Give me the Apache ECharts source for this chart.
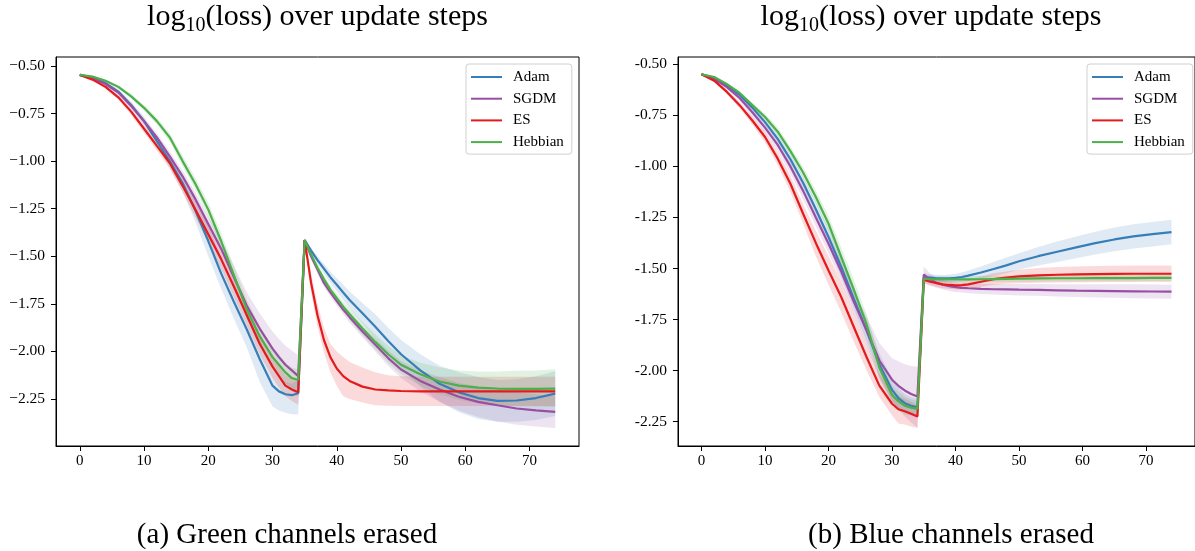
<!DOCTYPE html>
<html>
<head>
<meta charset="utf-8">
<title>log10(loss) over update steps</title>
<script src="https://cdn.jsdelivr.net/npm/echarts@6.0.0/dist/echarts.min.js"></script>
<style>
  html, body { margin: 0; padding: 0; background: #fff; }
  #main { width: 1195px; height: 551px; }
</style>
</head>
<body>
<div id="main"></div>
<script>
var steps = [0,2,4,6,8, 10,12,14,16,18, 20,22,24,26,28, 30,31,32,33,34,
             35,36,37,38,39, 40,41,42,44,46, 48,50,53,56,59, 62,65,68,71,74];

var xTicks = [0, 10, 20, 30, 40, 50, 60, 70];
var yTicks = [-0.5, -0.75, -1, -1.25, -1.5, -1.75, -2, -2.25];
var yLabelsA = ['\u22120.50','\u22120.75','\u22121.00','\u22121.25','\u22121.50','\u22121.75','\u22122.00','\u22122.25'];
var yLabelsB = ['-0.50','-0.75','-1.00','-1.25','-1.50','-1.75','-2.00','-2.25'];

var methods = ['Adam', 'SGDM', 'ES', 'Hebbian'];
var colors = ['#377eb8', '#984ea3', '#e41a1c', '#4daf4a'];

// (a) Green channels erased
var adamA = [-0.547,-0.563,-0.590,-0.635,-0.705, -0.790,-0.895,-1.000,-1.115,-1.260,
  -1.420,-1.590,-1.740,-1.885,-2.040, -2.180,-2.210,-2.225,-2.230,-2.220,
  -1.415,-1.470,-1.520,-1.565,-1.610, -1.650,-1.690,-1.730,-1.800,-1.870,
  -1.945,-2.015,-2.100,-2.170,-2.215, -2.245,-2.260,-2.258,-2.245,-2.222];
var adamALo = [-0.552,-0.570,-0.600,-0.648,-0.722, -0.810,-0.922,-1.035,-1.160,-1.320,
  -1.500,-1.670,-1.830,-1.980,-2.160, -2.290,-2.310,-2.322,-2.330,-2.332,
  -1.425,-1.485,-1.540,-1.590,-1.640, -1.685,-1.730,-1.775,-1.855,-1.935,
  -2.015,-2.090,-2.185,-2.265,-2.320, -2.355,-2.370,-2.370,-2.360,-2.340];
var adamAHi = [-0.542,-0.556,-0.580,-0.622,-0.688, -0.768,-0.868,-0.965,-1.070,-1.200,
  -1.340,-1.510,-1.650,-1.790,-1.930, -2.090,-2.140,-2.160,-2.170,-2.150,
  -1.405,-1.455,-1.500,-1.540,-1.580, -1.615,-1.650,-1.685,-1.745,-1.805,
  -1.875,-1.940,-2.015,-2.075,-2.110, -2.135,-2.150,-2.146,-2.130,-2.104];

var sgdmA = [-0.547,-0.565,-0.595,-0.640,-0.710, -0.790,-0.875,-0.975,-1.080,-1.200,
  -1.330,-1.460,-1.610,-1.760,-1.880, -1.985,-2.030,-2.070,-2.100,-2.130,
  -1.415,-1.500,-1.570,-1.640,-1.690, -1.735,-1.780,-1.820,-1.895,-1.965,
  -2.035,-2.095,-2.155,-2.200,-2.238, -2.265,-2.283,-2.300,-2.310,-2.318];
var sgdmALo = [-0.551,-0.571,-0.604,-0.652,-0.725, -0.808,-0.897,-1.000,-1.110,-1.235,
  -1.370,-1.510,-1.670,-1.830,-1.960, -2.075,-2.125,-2.170,-2.205,-2.240,
  -1.425,-1.515,-1.590,-1.660,-1.712, -1.760,-1.805,-1.848,-1.925,-2.000,
  -2.075,-2.140,-2.210,-2.265,-2.310, -2.345,-2.368,-2.385,-2.395,-2.402];
var sgdmAHi = [-0.543,-0.559,-0.586,-0.628,-0.695, -0.772,-0.853,-0.950,-1.050,-1.165,
  -1.290,-1.410,-1.550,-1.690,-1.800, -1.895,-1.935,-1.970,-1.995,-2.020,
  -1.405,-1.485,-1.550,-1.620,-1.668, -1.710,-1.755,-1.792,-1.865,-1.930,
  -1.995,-2.050,-2.100,-2.135,-2.166, -2.185,-2.198,-2.215,-2.225,-2.234];

var esA = [-0.547,-0.572,-0.610,-0.665,-0.740, -0.830,-0.920,-1.010,-1.130,-1.255,
  -1.385,-1.515,-1.660,-1.810,-1.960, -2.080,-2.130,-2.180,-2.200,-2.215,
  -1.415,-1.640,-1.810,-1.940,-2.030, -2.090,-2.130,-2.155,-2.185,-2.200,
  -2.205,-2.208,-2.210,-2.210,-2.210, -2.210,-2.210,-2.210,-2.210,-2.210];
var esALo = [-0.551,-0.578,-0.619,-0.678,-0.757, -0.850,-0.945,-1.040,-1.165,-1.295,
  -1.430,-1.565,-1.715,-1.865,-2.015, -2.140,-2.190,-2.235,-2.260,-2.280,
  -1.425,-1.690,-1.870,-2.005,-2.110, -2.180,-2.235,-2.250,-2.268,-2.283,
  -2.286,-2.287,-2.287,-2.287,-2.287, -2.287,-2.287,-2.287,-2.287,-2.287];
var esAHi = [-0.543,-0.566,-0.601,-0.652,-0.723, -0.810,-0.895,-0.980,-1.095,-1.215,
  -1.340,-1.465,-1.605,-1.755,-1.905, -2.020,-2.070,-2.125,-2.140,-2.150,
  -1.405,-1.590,-1.750,-1.875,-1.960, -2.000,-2.030,-2.055,-2.085,-2.110,
  -2.125,-2.130,-2.133,-2.133,-2.133, -2.133,-2.133,-2.133,-2.133,-2.133];

var hebbA = [-0.547,-0.556,-0.578,-0.610,-0.660, -0.720,-0.790,-0.875,-1.000,-1.120,
  -1.255,-1.420,-1.600,-1.780,-1.920, -2.030,-2.070,-2.110,-2.140,-2.150,
  -1.415,-1.490,-1.560,-1.620,-1.675, -1.720,-1.765,-1.805,-1.880,-1.950,
  -2.015,-2.070,-2.120,-2.158,-2.180, -2.190,-2.195,-2.197,-2.197,-2.195];
var hebbALo = [-0.550,-0.561,-0.585,-0.620,-0.672, -0.735,-0.808,-0.898,-1.028,-1.152,
  -1.292,-1.462,-1.648,-1.830,-1.972, -2.085,-2.125,-2.165,-2.195,-2.205,
  -1.425,-1.505,-1.578,-1.640,-1.698, -1.745,-1.792,-1.835,-1.915,-1.990,
  -2.060,-2.120,-2.180,-2.225,-2.255, -2.272,-2.282,-2.288,-2.290,-2.292];
var hebbAHi = [-0.544,-0.551,-0.571,-0.600,-0.648, -0.705,-0.772,-0.852,-0.972,-1.088,
  -1.218,-1.378,-1.552,-1.730,-1.868, -1.975,-2.015,-2.055,-2.085,-2.095,
  -1.405,-1.475,-1.542,-1.600,-1.652, -1.695,-1.738,-1.775,-1.845,-1.910,
  -1.970,-2.020,-2.060,-2.085,-2.100, -2.105,-2.105,-2.102,-2.100,-2.094];

// (b) Blue channels erased
var adamB = [-0.549,-0.567,-0.603,-0.650,-0.712, -0.783,-0.865,-0.965,-1.080,-1.210,
  -1.346,-1.493,-1.649,-1.804,-1.970, -2.095,-2.135,-2.160,-2.173,-2.180,
  -1.543,-1.545,-1.548,-1.549,-1.548, -1.546,-1.542,-1.535,-1.520,-1.503,
  -1.485,-1.465,-1.440,-1.418,-1.397, -1.376,-1.358,-1.343,-1.332,-1.322];
var adamBLo = [-0.552,-0.572,-0.611,-0.661,-0.727, -0.801,-0.887,-0.992,-1.112,-1.248,
  -1.390,-1.542,-1.700,-1.860,-2.025, -2.150,-2.185,-2.205,-2.215,-2.222,
  -1.562,-1.562,-1.565,-1.566,-1.566, -1.566,-1.564,-1.560,-1.550,-1.537,
  -1.523,-1.505,-1.485,-1.468,-1.450, -1.432,-1.416,-1.402,-1.392,-1.382];
var adamBHi = [-0.546,-0.562,-0.595,-0.639,-0.697, -0.765,-0.843,-0.938,-1.048,-1.172,
  -1.302,-1.444,-1.598,-1.748,-1.915, -2.040,-2.085,-2.115,-2.131,-2.138,
  -1.524,-1.528,-1.531,-1.532,-1.530, -1.526,-1.520,-1.510,-1.490,-1.469,
  -1.447,-1.425,-1.395,-1.368,-1.344, -1.320,-1.300,-1.284,-1.272,-1.262];

var sgdmB = [-0.549,-0.571,-0.612,-0.665,-0.735, -0.810,-0.895,-1.000,-1.120,-1.250,
  -1.379,-1.515,-1.665,-1.804,-1.951, -2.045,-2.075,-2.098,-2.115,-2.127,
  -1.530,-1.555,-1.570,-1.580,-1.587, -1.592,-1.595,-1.597,-1.600,-1.602,
  -1.603,-1.604,-1.605,-1.607,-1.609, -1.610,-1.611,-1.612,-1.613,-1.614];
var sgdmBLo = [-0.552,-0.577,-0.622,-0.680,-0.755, -0.835,-0.925,-1.035,-1.160,-1.295,
  -1.425,-1.565,-1.720,-1.875,-2.040, -2.150,-2.190,-2.225,-2.255,-2.280,
  -1.570,-1.585,-1.595,-1.603,-1.610, -1.615,-1.618,-1.621,-1.625,-1.628,
  -1.630,-1.632,-1.634,-1.637,-1.640, -1.642,-1.644,-1.646,-1.647,-1.648];
var sgdmBHi = [-0.546,-0.565,-0.602,-0.650,-0.715, -0.785,-0.865,-0.965,-1.080,-1.205,
  -1.333,-1.465,-1.610,-1.735,-1.865, -1.940,-1.955,-1.970,-1.978,-1.982,
  -1.490,-1.525,-1.545,-1.557,-1.564, -1.569,-1.572,-1.573,-1.575,-1.576,
  -1.576,-1.576,-1.576,-1.577,-1.578, -1.578,-1.578,-1.578,-1.579,-1.580];

var esB = [-0.549,-0.580,-0.635,-0.700,-0.775, -0.856,-0.962,-1.085,-1.232,-1.375,
  -1.510,-1.640,-1.788,-1.935,-2.074, -2.163,-2.190,-2.200,-2.212,-2.225,
  -1.555,-1.565,-1.572,-1.578,-1.581, -1.583,-1.582,-1.578,-1.565,-1.552,
  -1.545,-1.539,-1.534,-1.531,-1.529, -1.528,-1.527,-1.526,-1.526,-1.526];
var esBLo = [-0.552,-0.586,-0.645,-0.715,-0.795, -0.882,-0.995,-1.125,-1.280,-1.440,
  -1.580,-1.715,-1.860,-2.000,-2.130, -2.220,-2.260,-2.265,-2.275,-2.282,
  -1.572,-1.582,-1.590,-1.597,-1.600, -1.603,-1.603,-1.600,-1.590,-1.580,
  -1.575,-1.572,-1.570,-1.569,-1.568, -1.568,-1.567,-1.567,-1.567,-1.567];
var esBHi = [-0.546,-0.574,-0.625,-0.685,-0.755, -0.830,-0.930,-1.045,-1.185,-1.315,
  -1.440,-1.565,-1.716,-1.870,-2.018, -2.106,-2.125,-2.140,-2.155,-2.170,
  -1.538,-1.548,-1.554,-1.559,-1.562, -1.563,-1.561,-1.556,-1.540,-1.524,
  -1.515,-1.506,-1.498,-1.493,-1.490, -1.488,-1.487,-1.486,-1.485,-1.485];

var hebbB = [-0.549,-0.562,-0.597,-0.640,-0.700, -0.758,-0.830,-0.925,-1.030,-1.150,
  -1.281,-1.444,-1.605,-1.775,-1.985, -2.120,-2.150,-2.172,-2.182,-2.188,
  -1.550,-1.552,-1.553,-1.554,-1.554, -1.554,-1.554,-1.554,-1.553,-1.552,
  -1.551,-1.550,-1.549,-1.548,-1.548, -1.547,-1.547,-1.547,-1.546,-1.546];
var hebbBLo = [-0.552,-0.567,-0.605,-0.650,-0.713, -0.774,-0.850,-0.948,-1.057,-1.182,
  -1.320,-1.490,-1.655,-1.825,-2.035, -2.165,-2.195,-2.215,-2.222,-2.225,
  -1.566,-1.568,-1.569,-1.570,-1.570, -1.570,-1.570,-1.570,-1.569,-1.568,
  -1.567,-1.566,-1.565,-1.564,-1.564, -1.563,-1.563,-1.563,-1.562,-1.562];
var hebbBHi = [-0.546,-0.557,-0.589,-0.630,-0.687, -0.742,-0.810,-0.902,-1.003,-1.118,
  -1.242,-1.398,-1.555,-1.725,-1.935, -2.075,-2.105,-2.129,-2.142,-2.151,
  -1.534,-1.536,-1.537,-1.538,-1.538, -1.538,-1.538,-1.538,-1.537,-1.536,
  -1.535,-1.534,-1.533,-1.532,-1.532, -1.531,-1.531,-1.531,-1.530,-1.530];

var FONT = "'Liberation Serif', 'DejaVu Serif', serif";

var chart = echarts.init(document.getElementById('main'), null, { renderer: 'canvas' });

// shaded band between lo and hi, drawn as one polygon through the axis scales
function bandSeries(k, lo, hi, color) {
  return {
    type: 'custom',
    xAxisIndex: k,
    yAxisIndex: k,
    silent: true,
    z: 1,
    data: steps.map(function (s, i) { return [s, lo[i], hi[i]]; }),
    encode: { x: 0, y: [1, 2] },
    renderItem: function (params, api) {
      if (params.dataIndex !== 0) return null;
      var pts = [];
      for (var i = 0; i < steps.length; i++) pts.push(api.coord([steps[i], hi[i]]));
      for (var j = steps.length - 1; j >= 0; j--) pts.push(api.coord([steps[j], lo[j]]));
      return { type: 'polygon', shape: { points: pts }, style: { fill: color, opacity: 0.16 } };
    }
  };
}

function lineSeries(k, name, vals, color) {
  return {
    type: 'line',
    name: name,
    xAxisIndex: k,
    yAxisIndex: k,
    data: steps.map(function (s, i) { return [s, vals[i]]; }),
    symbol: 'none',
    showSymbol: false,
    color: color,
    lineStyle: { width: 2.2, color: color },
    z: 2
  };
}

function xAxisFor(k) {
  return {
    type: 'value', gridIndex: k, min: -3.7, max: 77.7,
    axisLine: { show: true, onZero: false, lineStyle: { color: '#000', width: 1 } },
    axisTick: { show: true, length: 5, customValues: xTicks, lineStyle: { color: '#000' } },
    axisLabel: { customValues: xTicks, color: '#000', fontFamily: FONT, fontSize: 15, margin: 8 },
    splitLine: { show: false }
  };
}

function yAxisFor(k, min, max, labels) {
  return {
    type: 'value', gridIndex: k, min: min, max: max,
    axisLine: { show: true, onZero: false, lineStyle: { color: '#000', width: 1 } },
    axisTick: { show: true, length: 5, customValues: yTicks, lineStyle: { color: '#000' } },
    axisLabel: {
      customValues: yTicks, color: '#000', fontFamily: FONT, fontSize: 15.5, margin: 11,
      formatter: function (v) {
        for (var i = 0; i < yTicks.length; i++) {
          if (Math.abs(yTicks[i] - v) < 1e-6) return labels[i];
        }
        return '';
      }
    },
    splitLine: { show: false }
  };
}

function legendFor(left) {
  return {
    left: left, top: 64, orient: 'vertical',
    data: methods, icon: 'rect', itemWidth: 31, itemHeight: 2, itemGap: 5.7,
    padding: [5, 8, 4, 5],
    borderColor: '#d0d0d0', borderWidth: 1, borderRadius: 3,
    backgroundColor: 'rgba(255,255,255,0.85)',
    selectedMode: false,
    textStyle: { fontFamily: FONT, fontSize: 15, color: '#000', lineHeight: 16, padding: [0, 0, 0, 6] }
  };
}

function titleText(x, y) {
  return {
    type: 'text', x: x, y: y, z: 10,
    style: {
      text: '{m|log}{s|10}{m|(loss) over update steps}',
      align: 'center', verticalAlign: 'middle',
      rich: {
        m: { fontFamily: FONT, fontSize: 30, lineHeight: 40, fill: '#000' },
        s: { fontFamily: FONT, fontSize: 20, lineHeight: 20, padding: [17, 0, 0, 0], fill: '#000' }
      }
    }
  };
}

function captionText(x, y, text) {
  return {
    type: 'text', x: x, y: y, z: 10,
    style: { text: text, align: 'center', verticalAlign: 'middle', fontFamily: FONT, fontSize: 29, fill: '#000' }
  };
}

var groups = [
  [adamA, adamALo, adamAHi, sgdmA, sgdmALo, sgdmAHi, esA, esALo, esAHi, hebbA, hebbALo, hebbAHi],
  [adamB, adamBLo, adamBHi, sgdmB, sgdmBLo, sgdmBHi, esB, esBLo, esBHi, hebbB, hebbBLo, hebbBHi]
];

var series = [];
for (var k = 0; k < 2; k++) {
  for (var m = 0; m < 4; m++) {
    series.push(bandSeries(k, groups[k][m * 3 + 1], groups[k][m * 3 + 2], colors[m]));
  }
  for (var m2 = 0; m2 < 4; m2++) {
    series.push(lineSeries(k, methods[m2], groups[k][m2 * 3], colors[m2]));
  }
}

var option = {
  animation: false,
  backgroundColor: '#fff',
  grid: [
    { left: 56, top: 57, width: 523, height: 389, show: true, borderColor: '#000', borderWidth: 1, backgroundColor: 'transparent' },
    { left: 678, top: 57, width: 522, height: 389, show: true, borderColor: '#000', borderWidth: 1, backgroundColor: 'transparent' }
  ],
  xAxis: [xAxisFor(0), xAxisFor(1)],
  yAxis: [yAxisFor(0, -2.497, -0.453, yLabelsA), yAxisFor(1, -2.370, -0.464, yLabelsB)],
  legend: [legendFor(466), legendFor(1087)],
  graphic: [
    titleText(317.5, 17),
    titleText(931, 17),
    captionText(287, 535, '(a) Green channels erased'),
    captionText(951, 535, '(b) Blue channels erased')
  ],
  series: series
};

chart.setOption(option);
</script>
</body>
</html>
